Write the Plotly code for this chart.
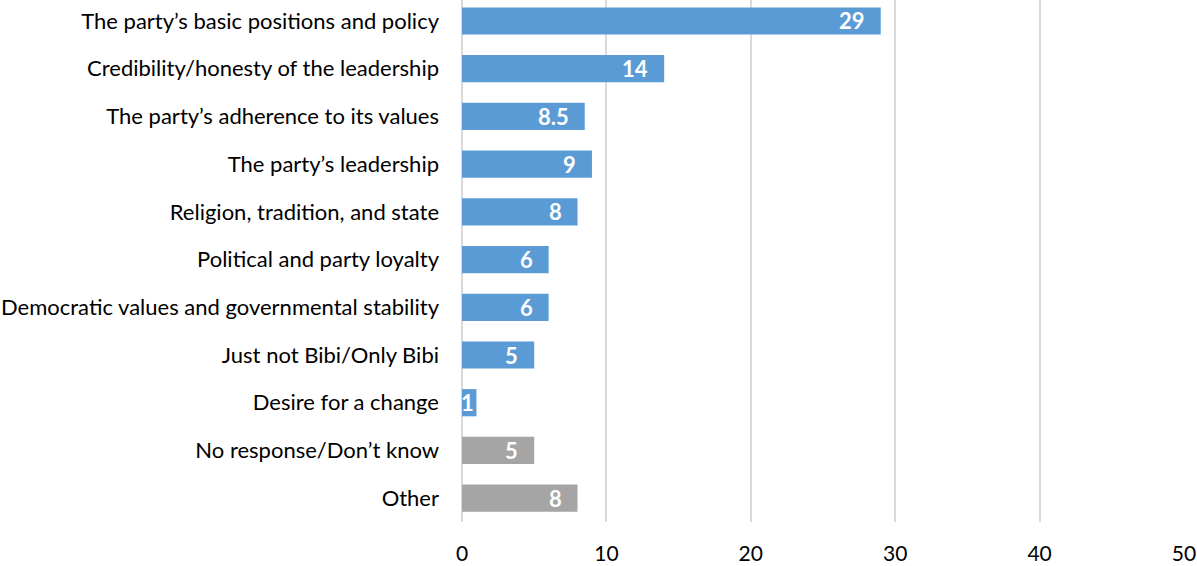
import plotly.graph_objects as go

categories = [
    "The party\u2019s basic positions and policy",
    "Credibility/honesty of the leadership",
    "The party\u2019s adherence to its values",
    "The party\u2019s leadership",
    "Religion, tradition, and state",
    "Political and party loyalty",
    "Democratic values and governmental stability",
    "Just not Bibi/Only Bibi",
    "Desire for a change",
    "No response/Don\u2019t know",
    "Other",
]
values = [29, 14, 8.5, 9, 8, 6, 6, 5, 1, 5, 8]
labels = ["29", "14", "8.5", "9", "8", "6", "6", "5", "1", "5", "8"]
groups = ["reason"] * 9 + ["other"] * 2

BLUE = "#5B9BD5"
GRAY = "#A5A5A5"
FONT = "Lato, Carlito, Calibri, sans-serif"

colors = [BLUE if g == "reason" else GRAY for g in groups]

fig = go.Figure(
    go.Bar(
        x=values,
        y=categories,
        orientation="h",
        marker=dict(color=colors, line=dict(width=0)),
        width=0.57,
        hoverinfo="skip",
    )
)

# value labels placed just inside the end of each bar
for cat, val, lab in zip(categories, values, labels):
    fig.add_annotation(
        x=val,
        y=cat,
        text=f"<b>{lab}</b>",
        showarrow=False,
        xanchor="right",
        yanchor="middle",
        xshift=-14 if val >= 3 else 0,
        font=dict(family=FONT, size=22, color="white"),
    )

fig.update_layout(
    width=1197,
    height=566,
    margin=dict(l=462, r=13, t=0, b=44),
    paper_bgcolor="white",
    plot_bgcolor="white",
    showlegend=False,
    font=dict(family=FONT, size=22, color="#000000"),
    xaxis=dict(
        range=[0, 50],
        dtick=10,
        showgrid=True,
        gridcolor="#D9D9D9",
        gridwidth=1.5,
        zeroline=True,
        zerolinecolor="#D9D9D9",
        zerolinewidth=1.5,
        showline=False,
        ticks="",
        tickfont=dict(family=FONT, size=21, color="#000000"),
        ticklabelstandoff=17,
        automargin=False,
    ),
    yaxis=dict(
        type="category",
        categoryorder="array",
        categoryarray=categories,
        range=[10.5, -0.44],
        showgrid=False,
        zeroline=False,
        showline=False,
        ticks="",
        tickfont=dict(family=FONT, size=22, color="#000000"),
        ticklabelstandoff=22,
        automargin=False,
    ),
)

fig.write_html("out.html")
